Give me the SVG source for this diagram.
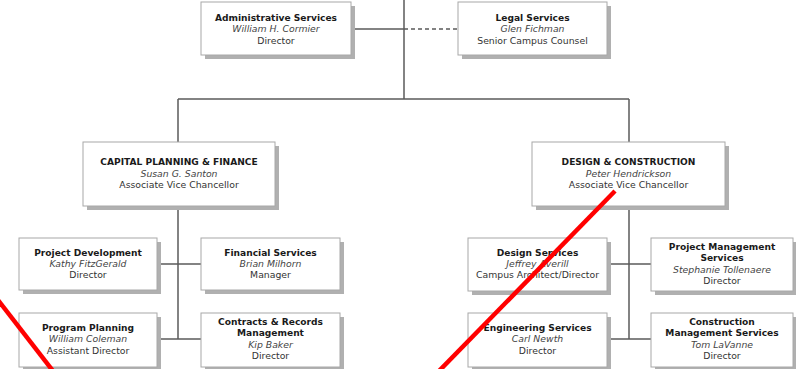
<svg xmlns="http://www.w3.org/2000/svg" width="796" height="369" viewBox="0 0 796 369">
<style>
.box{fill:#fff;stroke:#a8a8a8;stroke-width:1}
.sh{fill:#b0b0b0}
.ln{stroke:#5a5a5a;stroke-width:1.5;fill:none}
text{font-family:"DejaVu Sans",Verdana,sans-serif;font-size:9.3px;fill:#333;text-anchor:middle}
.t{font-weight:bold;font-size:9.1px;fill:#1a1a1a}
.n{font-style:italic;fill:#444}
.red{stroke:#ff0000;stroke-width:4.5;stroke-linecap:butt}
</style>
<rect width="796" height="369" fill="#fff"/>
<g id="connectors">
<line class="ln" x1="404" y1="0" x2="404" y2="99"/>
<line class="ln" x1="351" y1="29" x2="404" y2="29"/>
<line class="ln" x1="404" y1="29" x2="458" y2="29" stroke-dasharray="4,3"/>
<line class="ln" x1="178" y1="99" x2="629" y2="99"/>
<line class="ln" x1="178" y1="99" x2="178" y2="339"/>
<line class="ln" x1="629" y1="99" x2="629" y2="339"/>
<line class="ln" x1="157" y1="264" x2="201" y2="264"/>
<line class="ln" x1="157" y1="339" x2="201" y2="339"/>
<line class="ln" x1="607" y1="264" x2="651" y2="264"/>
<line class="ln" x1="607" y1="339" x2="651" y2="339"/>
</g>
<g id="admin">
<rect class="sh" x="205" y="6" width="150" height="53"/>
<rect class="box" x="201" y="2" width="150" height="53"/>
<text class="t" x="276" y="20.5">Administrative Services</text>
<text class="n" x="276" y="32">William H. Cormier</text>
<text x="276" y="43.5">Director</text>
</g>
<g id="legal">
<rect class="sh" x="462" y="6" width="149" height="53"/>
<rect class="box" x="458" y="2" width="149" height="53"/>
<text class="t" x="532.5" y="20.5">Legal Services</text>
<text class="n" x="532.5" y="32">Glen Fichman</text>
<text x="532.5" y="43.5">Senior Campus Counsel</text>
</g>
<g id="capital">
<rect class="sh" x="87" y="146" width="192" height="64"/>
<rect class="box" x="83" y="142" width="192" height="64"/>
<text class="t" x="179" y="165">CAPITAL PLANNING &amp; FINANCE</text>
<text class="n" x="179" y="176.5">Susan G. Santon</text>
<text x="179" y="188">Associate Vice Chancellor</text>
</g>
<g id="design-construction">
<rect class="sh" x="536" y="146" width="193" height="64"/>
<rect class="box" x="532" y="142" width="193" height="64"/>
<text class="t" x="628.5" y="165">DESIGN &amp; CONSTRUCTION</text>
<text class="n" x="628.5" y="176.5">Peter Hendrickson</text>
<text x="628.5" y="188">Associate Vice Chancellor</text>
</g>
<g id="project-development">
<rect class="sh" x="23" y="242" width="138" height="52"/>
<rect class="box" x="19" y="238" width="138" height="52"/>
<text class="t" x="88" y="256">Project Development</text>
<text class="n" x="88" y="267">Kathy FitzGerald</text>
<text x="88" y="278">Director</text>
</g>
<g id="financial">
<rect class="sh" x="205" y="242" width="139" height="52"/>
<rect class="box" x="201" y="238" width="139" height="52"/>
<text class="t" x="270.5" y="256">Financial Services</text>
<text class="n" x="270.5" y="267">Brian Milhorn</text>
<text x="270.5" y="278">Manager</text>
</g>
<g id="program-planning">
<rect class="sh" x="23" y="317" width="138" height="54"/>
<rect class="box" x="19" y="313" width="138" height="54"/>
<text class="t" x="88" y="331">Program Planning</text>
<text class="n" x="88" y="342">William Coleman</text>
<text x="88" y="353.5">Assistant Director</text>
</g>
<g id="contracts">
<rect class="sh" x="205" y="317" width="139" height="54"/>
<rect class="box" x="201" y="313" width="139" height="54"/>
<text class="t" x="270.5" y="324.5">Contracts &amp; Records</text>
<text class="t" x="270.5" y="336">Management</text>
<text class="n" x="270.5" y="347.5">Kip Baker</text>
<text x="270.5" y="359">Director</text>
</g>
<g id="design-services">
<rect class="sh" x="472" y="242" width="139" height="53"/>
<rect class="box" x="468" y="238" width="139" height="53"/>
<text class="t" x="537.5" y="256">Design Services</text>
<text class="n" x="537.5" y="267">Jeffrey Averill</text>
<text x="537.5" y="278">Campus Architect/Director</text>
</g>
<g id="project-management">
<rect class="sh" x="655" y="242" width="142" height="53"/>
<rect class="box" x="651" y="238" width="142" height="53"/>
<text class="t" x="722" y="249.5">Project Management</text>
<text class="t" x="722" y="261">Services</text>
<text class="n" x="722" y="272.5">Stephanie Tollenaere</text>
<text x="722" y="284">Director</text>
</g>
<g id="engineering">
<rect class="sh" x="472" y="317" width="139" height="54"/>
<rect class="box" x="468" y="313" width="139" height="54"/>
<text class="t" x="537.5" y="331">Engineering Services</text>
<text class="n" x="537.5" y="342">Carl Newth</text>
<text x="537.5" y="353.5">Director</text>
</g>
<g id="construction-management">
<rect class="sh" x="655" y="317" width="142" height="54"/>
<rect class="box" x="651" y="313" width="142" height="54"/>
<text class="t" x="722" y="324.5">Construction</text>
<text class="t" x="722" y="336">Management Services</text>
<text class="n" x="722" y="347.5">Tom LaVanne</text>
<text x="722" y="359">Director</text>
</g>
<g id="red-marks">
<line class="red" x1="-2" y1="300" x2="53" y2="371"/>
<line class="red" x1="615" y1="191" x2="439" y2="371"/>
</g>
</svg>
